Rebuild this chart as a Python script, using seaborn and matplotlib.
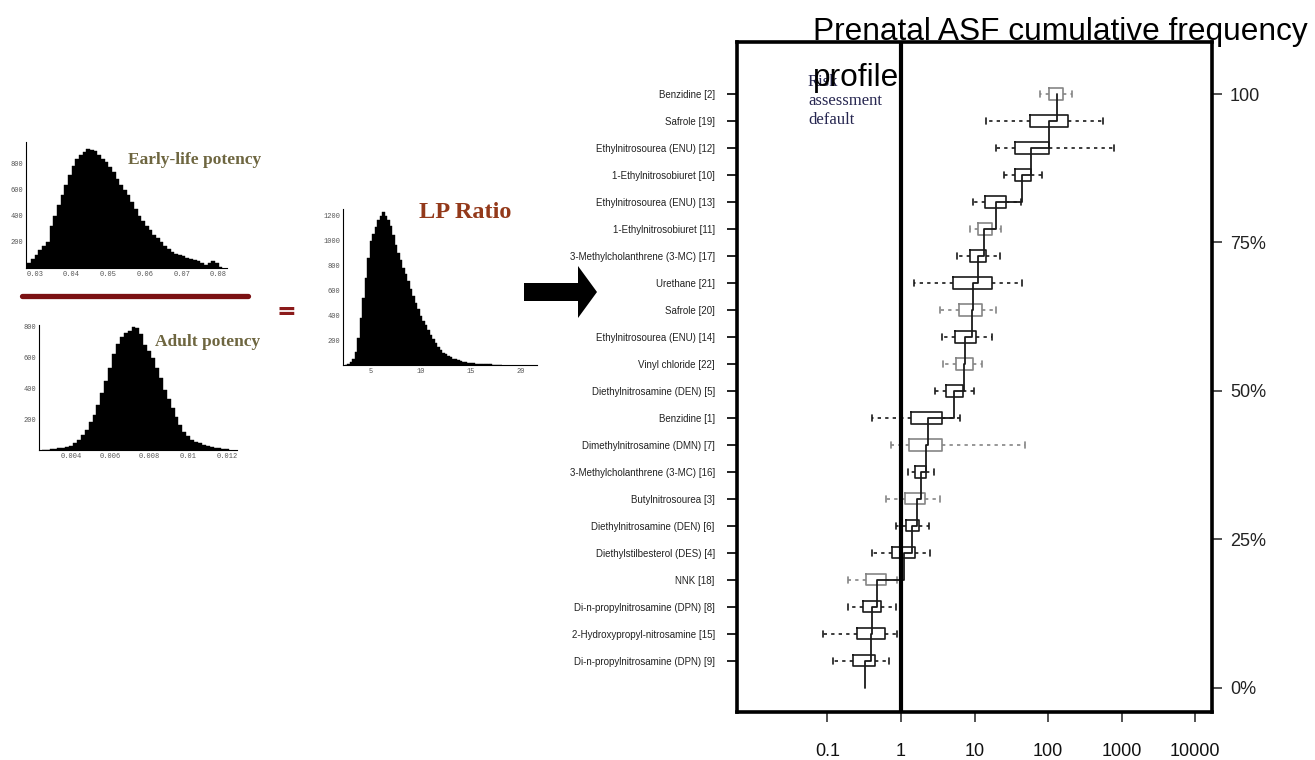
import numpy as np
import pandas as pd
import matplotlib
matplotlib.use('Agg')
import matplotlib.pyplot as plt
import seaborn as sns
from matplotlib.patches import Polygon
from matplotlib.lines import Line2D

# ---- data: main chart (top row first) ----
chems = ['Benzidine [2]', 'Safrole [19]', 'Ethylnitrosourea (ENU) [12]',
         '1-Ethylnitrosobiuret [10]', 'Ethylnitrosourea (ENU) [13]',
         '1-Ethylnitrosobiuret [11]', '3-Methylcholanthrene (3-MC) [17]',
         'Urethane [21]', 'Safrole [20]', 'Ethylnitrosourea (ENU) [14]',
         'Vinyl chloride [22]', 'Diethylnitrosamine (DEN) [5]', 'Benzidine [1]',
         'Dimethylnitrosamine (DMN) [7]', '3-Methylcholanthrene (3-MC) [16]',
         'Butylnitrosourea [3]', 'Diethylnitrosamine (DEN) [6]',
         'Diethylstilbesterol (DES) [4]', 'NNK [18]',
         'Di-n-propylnitrosamine (DPN) [8]', '2-Hydroxypropyl-nitrosamine [15]',
         'Di-n-propylnitrosamine (DPN) [9]']
whis_lo = [78, 14.4, 19.7, 25, 9.6, 8.7, 5.8, 1.5, 3.4, 3.6, 3.7, 2.9,
           0.40, 0.73, 1.25, 0.62, 0.85, 0.40, 0.19, 0.19, 0.087, 0.12]
q1 = [104, 57, 35.7, 35, 13.9, 11.2, 8.7, 5.1, 6.2, 5.4, 5.6, 4.1,
      1.37, 1.29, 1.55, 1.13, 1.17, 0.75, 0.33, 0.30, 0.25, 0.22]
median = [134, 104, 59, 44.6, 19.7, 13.5, 11.2, 9.6, 9.3, 7.4, 7.2, 5.3,
          2.3, 2.2, 1.9, 1.65, 1.4, 1.1, 0.47, 0.40, 0.39, 0.32]
q3 = [161, 189, 104, 59, 27, 17.3, 14.4, 17.3, 12.7, 10.5, 9.6, 7.0,
      3.6, 3.6, 2.2, 2.1, 1.76, 1.55, 0.62, 0.53, 0.61, 0.44]
whis_hi = [214, 565, 800, 83, 43, 23, 22.3, 44.6, 19.7, 17.3, 12.7, 9.9,
           6.3, 49, 2.8, 3.4, 2.4, 2.5, 0.88, 0.85, 0.88, 0.69]
shade = ['g', 'k', 'k', 'k', 'k', 'g', 'k', 'k', 'g', 'k', 'g', 'k',
         'k', 'g', 'k', 'g', 'k', 'k', 'g', 'k', 'k', 'k']
x_ticks = [0.1, 1, 10, 100, 1000, 10000]
x_labels = ['0.1', '1', '10', '100', '1000', '10000']
pct_ticks = [0, 25, 50, 75, 100]
pct_labels = ['0%', '25%', '50%', '75%', '100']

# ---- data: histograms (bin centres and counts) ----
early_x = np.round(np.arange(0.0285, 0.0806, 0.001), 4)
early_n = [40, 70, 100, 135, 165, 200, 320, 400, 480, 560, 635, 710, 780, 830,
           860, 885, 905, 900, 890, 860, 830, 805, 770, 735, 680, 630, 595, 555,
           500, 450, 400, 360, 320, 290, 255, 225, 200, 170, 145, 125, 108, 96,
           88, 76, 68, 60, 50, 35, 20, 38, 52, 35, 10]
adult_x = np.round(np.arange(0.0026, 0.01201, 0.0002), 4)
adult_n = [2, 3, 4, 6, 10, 15, 20, 28, 45, 68, 95, 128, 180, 230, 295, 370, 445,
           530, 620, 690, 730, 760, 775, 795, 790, 750, 680, 640, 595, 530, 470,
           390, 330, 270, 215, 160, 120, 92, 68, 55, 43, 33, 25, 18, 14, 10, 6, 4]
ratio_x = np.arange(2.5, 18.01, 0.25)
ratio_n = [3, 10, 22, 45, 106, 220, 380, 540, 700, 860, 990, 1050, 1105, 1160,
           1190, 1225, 1195, 1160, 1110, 1040, 960, 900, 840, 780, 730, 670, 610,
           555, 500, 445, 390, 355, 320, 280, 240, 205, 175, 145, 120, 100, 88,
           75, 62, 52, 45, 38, 33, 27, 22, 18, 16, 13, 11, 9, 8, 7, 6, 5, 5, 4,
           3, 2, 2]

sns.set_theme(style='white')
plt.rcParams['font.family'] = ['Liberation Sans', 'DejaVu Sans']

W, H = 1315, 760
fig = plt.figure(figsize=(W / 100, H / 100), dpi=100)
fig.patch.set_facecolor('white')


def px_axes(x0, y0, x1, y1):
    return fig.add_axes([x0 / W, 1 - y1 / H, (x1 - x0) / W, (y1 - y0) / H])


def small_hist(ax, centers, counts, xlim, ylim, xt, xtl, yt):
    centers = np.asarray(centers, dtype=float)
    w = float(centers[1] - centers[0])
    hd = pd.DataFrame({'x': centers, 'n': np.asarray(counts, dtype=float)})
    sns.histplot(data=hd, x='x', weights='n', binwidth=w,
                 binrange=(float(centers[0] - w / 2), float(centers[-1] + w / 2)),
                 color='black', edgecolor='black', linewidth=0.3, alpha=1, ax=ax)
    ax.set_xlim(*xlim)
    ax.set_ylim(*ylim)
    ax.set_xticks(xt, xtl)
    ax.set_yticks(yt, [str(v) for v in yt])
    ax.set_xlabel('')
    ax.set_ylabel('')
    ax.set_facecolor('none')
    for s in ['top', 'right']:
        ax.spines[s].set_visible(False)
    for s in ['left', 'bottom']:
        ax.spines[s].set_color('black')
        ax.spines[s].set_linewidth(0.8)
    ax.tick_params(direction='in', length=2.5, width=0.6, pad=2,
                   labelsize=5, labelcolor='#555555', colors='black')
    for lab in ax.get_xticklabels() + ax.get_yticklabels():
        lab.set_family('Liberation Mono')
        lab.set_color('#555555')


# early-life potency
ax1 = px_axes(26, 142, 227, 268)
small_hist(ax1, early_x, early_n, (0.0276, 0.0823), (0, 960),
           [0.03, 0.04, 0.05, 0.06, 0.07, 0.08],
           ['0.03', '0.04', '0.05', '0.06', '0.07', '0.08'], [200, 400, 600, 800])
# adult potency
ax2 = px_axes(39, 325, 237, 450)
small_hist(ax2, adult_x, adult_n, (0.00236, 0.0125), (0, 811),
           [0.004, 0.006, 0.008, 0.01, 0.012],
           ['0.004', '0.006', '0.008', '0.01', '0.012'], [200, 400, 600, 800])
# LP ratio
ax3 = px_axes(343, 209, 537, 365)
small_hist(ax3, ratio_x, ratio_n, (2.2, 21.6), (0, 1250),
           [5, 10, 15, 20], ['5', '10', '15', '20'],
           [200, 400, 600, 800, 1000, 1200])

serif = ['Liberation Serif', 'DejaVu Serif']
fig.text(128 / W, 1 - 160 / H, 'Early-life potency', family=serif,
         weight='bold', size=12.5, color='#6e6640', va='center')
fig.text(155 / W, 1 - 342 / H, 'Adult potency', family=serif,
         weight='bold', size=12.5, color='#6e6640', va='center')
fig.text(419 / W, 1 - 213 / H, 'LP Ratio', family=serif,
         weight='bold', size=17.5, color='#93391a', va='center')
fig.add_artist(Line2D([22 / W, 248 / W], [1 - 296 / H, 1 - 296 / H],
                      transform=fig.transFigure, color='#7b1113', lw=3.8))
fig.text(286 / W, 1 - 312 / H, '=', family='DejaVu Sans', weight='bold',
         size=17, color='#8b1a1a', ha='center', va='center')

# block arrow
arrow_px = [(524, 283), (578, 283), (578, 266), (597, 292), (578, 318),
            (578, 301), (524, 301)]
fig.add_artist(Polygon([(x / 100, (H - y) / 100) for x, y in arrow_px],
                       closed=True, transform=fig.dpi_scale_trans,
                       facecolor='black', edgecolor='none'))

# ---- main cumulative frequency chart ----
rows = []
for i, c in enumerate(chems):
    for v in (whis_lo[i], q1[i], median[i], q3[i], whis_hi[i]):
        rows.append({'chem': c, 'value': v, 'shade': shade[i]})
df = pd.DataFrame(rows)

ax = px_axes(737, 42, 1212, 712)
sns.boxplot(data=df, x='value', y='chem', hue='shade', order=chems,
            palette={'k': '#1a1a1a', 'g': '#858585'}, fill=False, dodge=False,
            width=0.42, whis=(0, 100), log_scale=True, linewidth=1.2,
            legend=False, ax=ax,
            whiskerprops={'linestyle': (0, (2, 2.5))},
            medianprops={'linewidth': 0})

n = len(chems)
pos = np.arange(n)
step_x = np.repeat(median, 2)
step_y = np.column_stack([pos, pos + 1]).ravel()
ax.plot(step_x, step_y, color='#1a1a1a', lw=1.3, zorder=3)
ax.axvline(1, color='black', lw=3, zorder=4)

ax.set_xlim(10 ** -2.23, 10 ** 4.23)
ax.set_ylim(n + 0.9, -1.93)
ax.set_xticks(x_ticks, x_labels)
ax.minorticks_off()
ax.set_xlabel('')
ax.set_ylabel('')
for s in ax.spines.values():
    s.set_visible(True)
    s.set_color('black')
    s.set_linewidth(2.6)
    s.set_zorder(5)
ax.tick_params(axis='y', left=True, length=7, width=1.4, pad=9,
               labelsize=7, labelcolor='#222222', color='#222222')
ax.tick_params(axis='x', bottom=True, length=7, width=1.2, pad=15,
               labelsize=13, labelcolor='#111111', color='#333333')


def to_pct(p):
    return (n - p) / n * 100


def to_pos(c):
    return n - c * n / 100


sec = ax.secondary_yaxis('right', functions=(to_pct, to_pos))
sec.set_yticks(pct_ticks, pct_labels)
sec.tick_params(length=7, width=1.2, pad=6, labelsize=13,
                labelcolor='#222222', color='#333333')
for s in sec.spines.values():
    s.set_visible(False)

fig.text(813 / W, 1 - 40 / H, 'Prenatal ASF cumulative frequency',
         size=22.8, color='black', va='baseline')
fig.text(808 / W, 1 - 74 / H, 'Risk\nassessment\ndefault', family=serif,
         size=12, color='#262650', va='top', linespacing=1.25)
fig.text(813 / W, 1 - 86 / H, 'profile', size=22.8, color='black',
         va='baseline')

fig.savefig('out.png', dpi=100)
